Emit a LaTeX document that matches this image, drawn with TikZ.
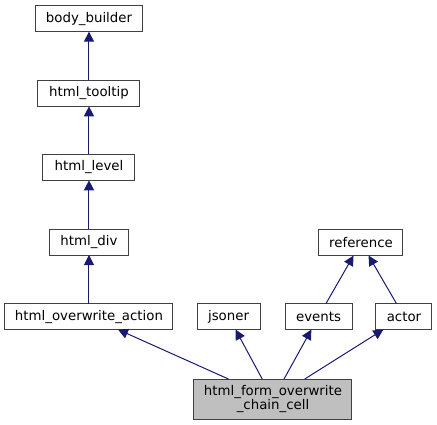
\documentclass[tikz,border=0pt]{standalone}
\usepackage{fontspec}
\setmainfont{DejaVu Sans}
\usepackage{tikz}
\usetikzlibrary{arrows.meta}
\definecolor{edgeblue}{HTML}{191970}
\definecolor{boxgrey}{HTML}{404040}
\definecolor{cellgrey}{HTML}{BFBFBF}

\begin{document}
\begin{tikzpicture}[
	cls/.style={draw=boxgrey, line width=0.75pt, minimum height=19.5pt, inner sep=0pt, outer sep=0pt, font=\fontsize{10}{10.7}\selectfont},
	edge/.style={edgeblue, line width=0.75pt, -{Triangle[length=7.5pt, width=7.5pt]}}]
	\useasboundingbox (0pt,0pt) rectangle (327.75pt,-318.75pt);

	\node[cls, fill=cellgrey, minimum width=118.5pt, minimum height=30pt, align=center](CELL) at (204.75pt,-299.25pt){html\_form\_overwrite\\\_chain\_cell};

	\node[cls, minimum width=126pt](HOA) at (66.75pt,-237.4pt){html\_overwrite\_action};
	\node[cls, minimum width=47.25pt](JS) at (171.4pt,-237.4pt){jsoner};
	\node[cls, minimum width=50.25pt](EV) at (238.9pt,-237.4pt){events};
	\node[cls, minimum width=42pt](AC) at (303pt,-237.4pt){actor};
	\node[cls, minimum width=63pt](REF) at (270.75pt,-181.9pt){reference};

	\node[cls, minimum width=59.25pt, above of=HOA, node distance=55.9pt](HD){html\_div};
	\node[cls, minimum width=69pt, above of=HD, node distance=56pt](HL){html\_level};
	\node[cls, minimum width=76.5pt, above of=HL, node distance=55.5pt](HT){html\_tooltip};
	\node[cls, minimum width=80.25pt, above of=HT, node distance=56pt](BB){body\_builder};

	\draw[edge] (CELL) -- (HOA);
	\draw[edge] (CELL) -- (JS);
	\draw[edge] (CELL) -- (EV);
	\draw[edge] (CELL) -- (AC);

	\draw[edge] (EV) -- (REF);
	\draw[edge] (AC) -- (REF);

	\draw[edge] (HOA) -- (HD);
	\draw[edge] (HD) -- (HL);
	\draw[edge] (HL) -- (HT);
	\draw[edge] (HT) -- (BB);
\end{tikzpicture}
\end{document}
